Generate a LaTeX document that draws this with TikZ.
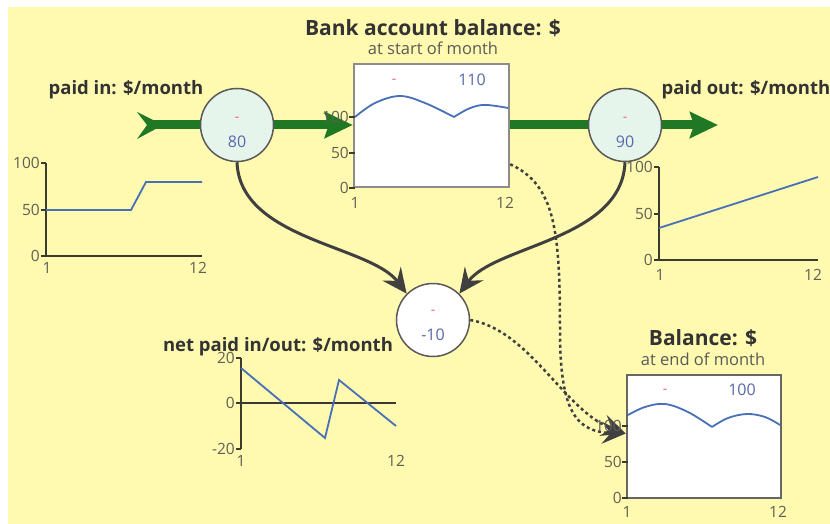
\documentclass[tikz,border=0pt]{standalone}
\usepackage{fontspec}
\setmainfont{Open Sans}
\usetikzlibrary{arrows.meta,positioning}

\definecolor{bgyellow}{RGB}{255,250,176}
\definecolor{flowgreen}{RGB}{32,120,36}
\definecolor{curveblue}{RGB}{72,112,184}
\definecolor{numblue}{RGB}{88,104,172}
\definecolor{minusred}{RGB}{232,96,96}
\definecolor{axisdark}{RGB}{58,58,48}
\definecolor{labelgray}{RGB}{95,95,85}
\definecolor{valvefill}{RGB}{230,245,236}

\tikzset{
  valve/.style={circle, draw=black!65, line width=1.5pt, fill=valvefill, minimum size=73pt, inner sep=0pt},
  stockbox/.style={rectangle, draw=black!45, line width=2.5pt, fill=white, inner sep=0pt},
  flow/.style={flowgreen, line width=9pt},
  flowhead/.style={-{Stealth[length=28pt,width=26pt,inset=4pt]}},
  link/.style={draw=black!75, line width=3pt, -{Stealth[length=25pt,width=23pt,inset=9pt]}},
  infolink/.style={draw=black!75, line width=2.5pt, dash pattern=on 3pt off 3pt, -{Stealth[length=24pt,width=22pt,inset=9pt]}},
  heading/.style={font=\fontsize{21}{24}\selectfont\bfseries, text=black!80},
  subheading/.style={font=\fontsize{16.5}{19}\selectfont, text=black!65},
  flowlabel/.style={font=\fontsize{18.5}{21}\selectfont\bfseries, text=black!80},
  amount/.style={font=\fontsize{16}{18}\selectfont, text=numblue},
  minus/.style={font=\fontsize{14}{16}\selectfont, text=minusred},
  ticklabel/.style={font=\fontsize{15.5}{17}\selectfont, text=labelgray, inner sep=1pt},
  axis/.style={axisdark, line width=2pt},
  curve/.style={curveblue, line width=1.8pt}
}

\begin{document}
\begin{tikzpicture}[x=1pt, y=-1pt]
    % Background
    \useasboundingbox (0,0) rectangle (830,524);
    \fill[white] (0,0) rectangle (830,524);
    \fill[bgyellow] (8,7) rectangle (832,528);

    % Stocks
    \node[stockbox, minimum width=155pt, minimum height=123pt] (stock) at (431.5,125.5) {};
    \node[heading] (stocktitle) at (433,28) {Bank account balance: \$};
    \node[subheading] (stocksub) at (433,48) {at start of month};
    \node[stockbox, draw=black!60, minimum width=154pt, minimum height=123pt] (balance) at (704,436.5) {};
    \node[heading] (balancetitle) at (703,338) {Balance: \$};
    \node[subheading] (balancesub) at (703,359) {at end of month};

    % Valves
    \node[valve] (flowin) at (237,125) {};
    \node[valve] (flowout) at (625,125) {};
    \node[valve, fill=white] (net) at (433,320) {};
    \coordinate (intail) at (147,125);
    \coordinate (outend) at (718,125);

    % Flow pipes
    \fill[flowgreen] (137,112) -- (163,125) -- (137,139) -- (intail) -- cycle;
    \draw[flow] (intail) -- (flowin.west);
    \draw[flow, flowhead] (flowin.east) -- (flowin -| stock.west);
    \draw[flow] (flowin -| stock.east) -- (flowout.west);
    \draw[flow, flowhead] (flowout.east) -- (outend);

    % Links
    \draw[link] (flowin.south) .. controls (240,240) and (370,245) .. (net.135);
    \draw[link] (flowout.south) .. controls (622,240) and (495,245) .. (net.45);
    \draw[infolink] ([yshift=24pt]stock.south east) .. controls (555,185) and (560,230) .. (560,330)
        .. controls (560,410) and (575,432) .. ([yshift=3pt]balance.west);
    \draw[infolink] (net.east) .. controls (530,330) and (565,412) .. ([yshift=3pt]balance.west);

    % Valve values
    \node[minus] at ([yshift=6pt]flowin.center) {-};
    \node[amount] at ([yshift=-17pt]flowin.center) {80};
    \node[minus] at ([yshift=6pt]flowout.center) {-};
    \node[amount] at ([yshift=-17pt]flowout.center) {90};
    \node[minus] at ([yshift=8pt]net.center) {-};
    \node[amount] at ([yshift=-15pt]net.center) {-10};

    % Stock contents
    \draw[curve] plot[smooth, tension=0.6] coordinates {(355,117) (375,103) (400,96) (425,103) (454,117)};
    \draw[curve] plot[smooth, tension=0.6] coordinates {(454,117) (468,109) (482,105) (496,106) (508,108)};
    \node[minus] at (394,81) {-};
    \node[amount] at (472,80) {110};
    \draw[curve] plot[smooth, tension=0.6] coordinates {(628,415) (645,407) (665,404) (688,412) (712,427)};
    \draw[curve] plot[smooth, tension=0.6] coordinates {(712,427) (728,418) (747,414) (765,417) (780,425)};
    \node[minus] at (665,391) {-};
    \node[amount] at (742,390) {100};

    % Stock axes
    \foreach \y/\v in {117/100, 153/50, 188/0} {
        \draw[axisdark, line width=1.5pt] (349,\y) -- (355,\y);
        \node[ticklabel, left] at (350,\y) {\v};
    }
    \node[ticklabel, below] at (355,196) {1};
    \node[ticklabel, below] at (505,196) {12};
    \foreach \y/\v in {426/100, 462/50, 498/0} {
        \draw[axisdark, line width=1.5pt] (622,\y) -- (628,\y);
        \node[ticklabel, left] at (623,\y) {\v};
    }
    \node[ticklabel, below] at (627,505) {1};
    \node[ticklabel, below] at (778,505) {12};

    % Flow labels
    \node[flowlabel] (inlabel) at (126,90) {paid in: \$/month};
    \node[flowlabel] (outlabel) at (746,90) {paid out: \$/month};

    % Paid in graph
    \draw[axis] (46,163) -- (46,256) -- (202,256);
    \foreach \y/\v in {163/100, 210/50, 256/0} {
        \draw[axis] (41,\y) -- (46,\y);
        \node[ticklabel, left] at (41,\y) {\v};
    }
    \node[ticklabel, below] at (47,261) {1};
    \node[ticklabel, below] at (198,261) {12};
    \draw[curve] (46,210) -- (131,210) -- (146,182) -- (202,182);

    % Paid out graph
    \draw[axis] (659,167) -- (659,260) -- (818,260);
    \foreach \y/\v in {167/100, 214/50, 260/0} {
        \draw[axis] (654,\y) -- (659,\y);
        \node[ticklabel, left] at (654,\y) {\v};
    }
    \node[ticklabel, below] at (660,268) {1};
    \node[ticklabel, below] at (813,268) {12};
    \draw[curve] (659,228) -- (818,177);

    % Net graph
    \draw[axis] (241,358) -- (241,449);
    \draw[axis] (241,403) -- (396,403);
    \foreach \y/\v in {358/20, 403/0, 449/-20} {
        \draw[axis] (236,\y) -- (241,\y);
        \node[ticklabel, left] at (236,\y) {\v};
    }
    \node[ticklabel, below] at (241,454) {1};
    \node[ticklabel, below] at (396,454) {12};
    \draw[curve] (241,368) -- (325,438) -- (339,380) -- (396,426);
    \node[flowlabel] (netlabel) at (278,347) {net paid in/out: \$/month};
\end{tikzpicture}
\end{document}
